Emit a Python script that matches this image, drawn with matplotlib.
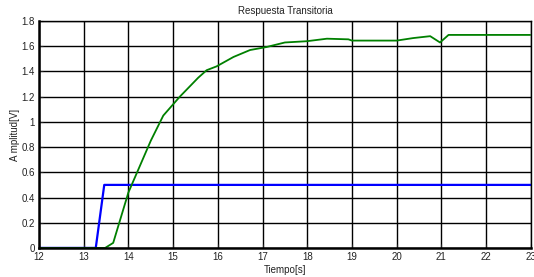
import matplotlib
matplotlib.use('Agg')
import matplotlib.pyplot as plt

# ── Datos ────────────────────────────────────────────────────────────────────
t_entrada = [12, 13.0, 13.27, 13.46, 23]
v_entrada = [0, 0, 0, 0.5, 0.5]

t_salida = [12, 13.48, 13.66, 14.0, 14.5, 14.78, 15.15, 15.56, 15.75, 15.97,
            16.35, 16.72, 17.09, 17.5, 17.99, 18.44, 18.92, 19.0, 20.0, 20.37,
            20.75, 20.97, 21.16, 22.02, 22.98]
v_salida = [0, 0, 0.04, 0.44, 0.85, 1.05, 1.20, 1.35, 1.41, 1.44,
            1.515, 1.57, 1.594, 1.63, 1.64, 1.66, 1.655, 1.645, 1.645, 1.665,
            1.68, 1.63, 1.69, 1.69, 1.69]

x_ticks = list(range(12, 24))
y_ticks = [0, 0.2, 0.4, 0.6, 0.8, 1, 1.2, 1.4, 1.6, 1.8]
y_labels = ['0', '0.2', '0.4', '0.6', '0.8', '1', '1.2', '1.4', '1.6', '1.8']

plt.rcParams['font.family'] = ['Liberation Sans Narrow', 'Liberation Sans', 'DejaVu Sans']

fig = plt.figure(figsize=(5.34, 2.77), dpi=100)
ax = fig.add_axes([0.073, 0.105, 0.921, 0.819])

ax.plot(t_entrada, v_entrada, color='#0000ff', linewidth=1.6)
ax.plot(t_salida, v_salida, color='#008000', linewidth=1.3)

ax.set_xlim(12, 23)
ax.set_ylim(0, 1.8)
ax.set_xticks(x_ticks)
ax.set_yticks(y_ticks)
ax.set_yticklabels(y_labels)
ax.grid(True, color='black', linewidth=1.0, linestyle='-')
ax.tick_params(direction='in', labelsize=7, length=3, pad=3, colors='#222222')

for side in ['left', 'bottom']:
    ax.spines[side].set_linewidth(1.8)
for side in ['right', 'top']:
    ax.spines[side].set_linewidth(1.0)

ax.set_title('Respuesta Transitoria', fontsize=7, pad=5, color='#222222')
ax.set_xlabel('Tiempo[s]', fontsize=7, labelpad=2, color='#222222')
ax.set_ylabel('A mplitud[V]', fontsize=7, labelpad=1, color='#222222')

fig.savefig('out.png', dpi=100)
